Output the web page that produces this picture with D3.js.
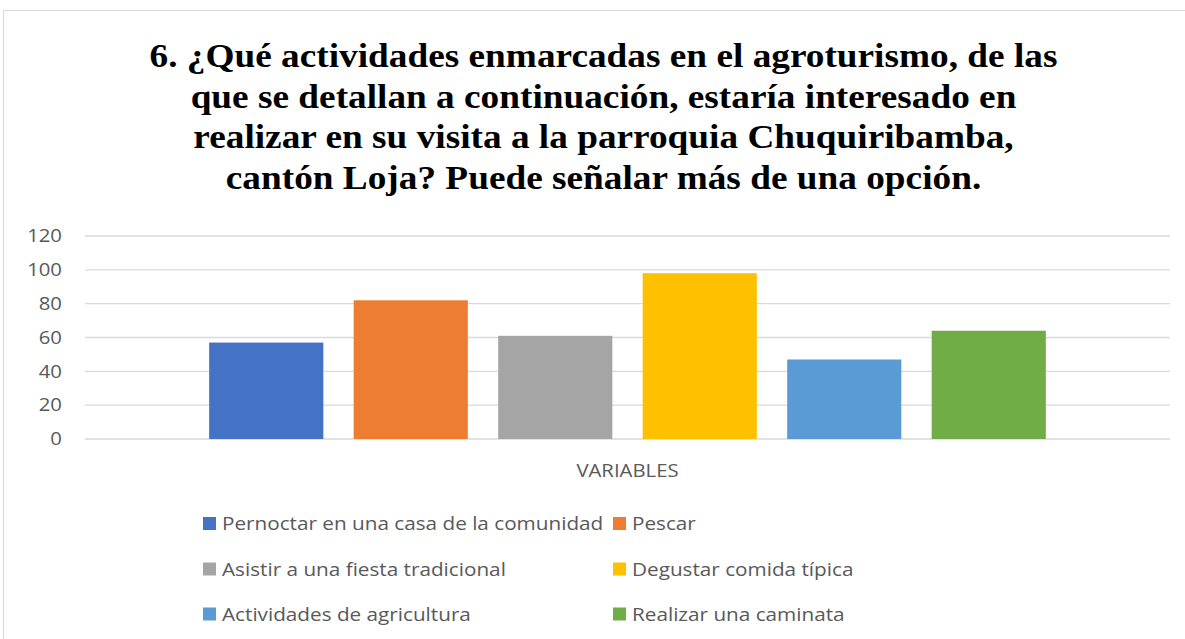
<!DOCTYPE html>
<html>
<head>
<meta charset="utf-8">
<script src="https://cdn.jsdelivr.net/npm/d3@7"></script>
<style>
  body { margin: 0; background: #fff; }
  svg { display: block; }
</style>
</head>
<body>
<script>
"use strict"
const w = 1185;
const h = 639;

const titleLines = [
	'6. ¿Qué actividades enmarcadas en el agroturismo, de las',
	'que se detallan a continuación, estaría interesado en',
	'realizar en su visita a la parroquia Chuquiribamba,',
	'cantón Loja? Puede señalar más de una opción.'
];
const category = 'VARIABLES';
const seriesNames = [
	'Pernoctar en una casa de la comunidad',
	'Pescar',
	'Asistir a una fiesta tradicional',
	'Degustar comida típica',
	'Actividades de agricultura',
	'Realizar una caminata'
];
const values = [57, 82, 61, 98, 47, 64];
const colors = ['#4472c4', '#ed7d31', '#a5a5a5', '#ffc000', '#5b9bd5', '#70ad47'];
const yTicks = [0, 20, 40, 60, 80, 100, 120];

const plot = { left: 85, right: 1170, top: 236, bottom: 439 };
const stretch = 1.13; // the picture is a bit wider than tall
const sans = '"Open Sans", sans-serif';

const svg = d3.select('body').append('svg')
	.attr('width', w)
	.attr('height', h);

// chart border
svg.append('rect')
	.attr('x', 3.5).attr('y', 10.5)
	.attr('width', w + 10).attr('height', h + 10)
	.attr('fill', 'none')
	.attr('stroke', '#d9d9d9');

svg.append('g')
	.selectAll('text')
	.data(titleLines)
	.enter()
	.append('text')
	.attr('transform', (d, i) => 'translate(603.5,' + (67 + i * 40.5) + ') scale(' + stretch + ',1)')
	.attr('text-anchor', 'middle')
	.attr('font-family', '"Liberation Serif", "Times New Roman", serif')
	.attr('font-weight', 'bold')
	.attr('font-size', 33)
	.attr('fill', '#000')
	.text(d => d);

const yScale = d3.scaleLinear()
	.domain([0, 120])
	.range([plot.bottom, plot.top]);

const x0 = d3.scaleBand()
	.domain([category])
	.range([plot.left, plot.right]);

const x1 = d3.scaleBand()
	.domain(seriesNames)
	.range([209 - 15, 1046 + 15])
	.paddingInner(0.21)
	.paddingOuter(0.105);

// gridlines
svg.append('g')
	.selectAll('line')
	.data(yTicks)
	.enter()
	.append('line')
	.attr('x1', plot.left).attr('x2', plot.right)
	.attr('y1', d => yScale(d)).attr('y2', d => yScale(d))
	.attr('stroke', '#d9d9d9')
	.attr('stroke-width', 1.3);

const yAxis = d3.axisLeft(yScale)
	.tickValues(yTicks)
	.tickSize(0)
	.tickPadding(0);

const yg = svg.append('g')
	.attr('transform', 'translate(62, 0)')
	.call(yAxis);
yg.select('.domain').remove();
yg.selectAll('text')
	.attr('x', 0)
	.attr('transform', 'scale(' + stretch + ',1)')
	.attr('font-family', sans)
	.attr('font-size', 18)
	.attr('fill', '#595959');

svg.append('g')
	.selectAll('rect')
	.data(values)
	.enter()
	.append('rect')
	.attr('x', (d, i) => x1(seriesNames[i]))
	.attr('y', d => yScale(d))
	.attr('width', x1.bandwidth())
	.attr('height', d => yScale(0) - yScale(d))
	.attr('fill', (d, i) => colors[i]);

svg.append('text')
	.attr('transform', 'translate(' + (x0(category) + x0.bandwidth() / 2) + ',477) scale(' + stretch + ',1)')
	.attr('text-anchor', 'middle')
	.attr('font-family', sans)
	.attr('font-size', 18)
	.attr('fill', '#595959')
	.text(category);

// legend, 2 columns x 3 rows
const legendX = [203, 613];
const legendY = [523.5, 569, 614];
const lg = svg.append('g')
	.selectAll('g')
	.data(seriesNames)
	.enter()
	.append('g')
	.attr('transform', (d, i) => 'translate(' + legendX[i % 2] + ',' + legendY[Math.floor(i / 2)] + ')');
lg.append('rect')
	.attr('x', 0).attr('y', -6.5)
	.attr('width', 13).attr('height', 13)
	.attr('fill', (d, i) => colors[i]);
lg.append('text')
	.attr('transform', 'translate(19,6.5) scale(1.12,1)')
	.attr('font-family', sans)
	.attr('font-size', 18.5)
	.attr('fill', '#595959')
	.text(d => d);
</script>
</body>
</html>
